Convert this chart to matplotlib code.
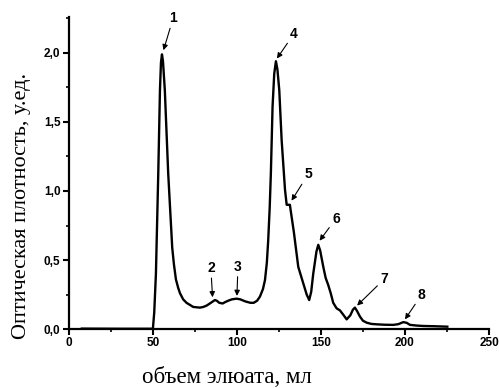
import matplotlib.pyplot as plt
from matplotlib.ticker import MultipleLocator, FuncFormatter

# Elution profile (volume in ml, optical density)
volume = [7.7, 30, 50.0, 50.8, 51.8, 53.2, 54.2, 54.8, 55.4, 56.0, 57.1, 59.1, 61.5,
          62.5, 63.7, 65.0, 66.1, 68.0, 70.0, 74.0, 78.0, 80.0, 82.0, 84.5, 86.9,
          88.0, 89.5, 91.5, 93.0, 94.8, 97.0, 99.8, 102.0, 105.0, 108.0, 110.0,
          112.0, 113.7, 115.5, 116.7, 117.8, 118.6, 119.5, 120.2, 121.2, 122.2,
          123.2, 124.1, 125.2, 126.6, 128.6, 129.6, 131.5, 133.9, 136.5, 139.5,
          141.5, 143.0, 144.2, 145.4, 147.3, 148.4, 149.5, 151.4, 152.8, 154.3,
          155.8, 157.3, 159.3, 161.3, 163.5, 165.3, 167.5, 169.0, 170.2, 171.5,
          173.2, 175.0, 177.2, 180.0, 183.2, 188.0, 193.0, 196.0, 199.0, 201.0,
          203.0, 207.0, 211.0, 218.0, 225.2]
density = [0.003, 0.002, 0.002, 0.12, 0.40, 1.13, 1.73, 1.93, 1.99, 1.94, 1.73, 1.13, 0.59,
           0.47, 0.36, 0.30, 0.26, 0.215, 0.19, 0.16, 0.155, 0.16, 0.17, 0.19, 0.21,
           0.205, 0.19, 0.185, 0.195, 0.205, 0.215, 0.22, 0.215, 0.20, 0.19, 0.19,
           0.205, 0.235, 0.29, 0.355, 0.48, 0.64, 0.88, 1.13, 1.61, 1.85,
           1.94, 1.88, 1.73, 1.37, 1.01, 0.90, 0.90, 0.70, 0.45, 0.33,
           0.25, 0.21, 0.27, 0.40, 0.56, 0.61, 0.57, 0.45, 0.37, 0.32,
           0.26, 0.19, 0.15, 0.135, 0.10, 0.07, 0.10, 0.14, 0.155, 0.13,
           0.09, 0.06, 0.046, 0.037, 0.034, 0.031, 0.03, 0.035, 0.05, 0.045,
           0.03, 0.025, 0.022, 0.02, 0.017]

# Peak labels: (number, arrow tip x, tip y, label x, label y)
peak_ids = ['1', '2', '3', '4', '5', '6', '7', '8']
tip_x = [56.3, 85.5, 100.0, 123.8, 132.5, 149.2, 171.5, 200.0]
tip_y = [2.02, 0.23, 0.24, 1.96, 0.93, 0.64, 0.17, 0.07]
lab_x = [62.0, 84.5, 100.6, 134.0, 142.3, 158.9, 187.5, 210.0]
lab_y = [2.25, 0.44, 0.45, 2.14, 1.12, 0.80, 0.36, 0.25]

fig = plt.figure(figsize=(4.99, 3.88), dpi=100)
ax = fig.add_axes([0.138, 0.152, 0.842, 0.804])

ax.plot(volume, density, color='black', linewidth=1.7)

for n, tx, ty, lx, ly in zip(peak_ids, tip_x, tip_y, lab_x, lab_y):
    ax.annotate(n, xy=(tx, ty), xytext=(lx, ly), ha='center', va='center',
                fontsize=10, fontweight='bold', family='Liberation Sans',
                arrowprops=dict(arrowstyle='-|>', color='black', lw=0.8,
                                mutation_scale=8, shrinkA=0, shrinkB=0))

ax.set_xlim(0, 250)
ax.set_ylim(0, 2.26)
ax.xaxis.set_major_locator(MultipleLocator(50))
ax.xaxis.set_minor_locator(MultipleLocator(25))
ax.yaxis.set_major_locator(MultipleLocator(0.5))
ax.yaxis.set_minor_locator(MultipleLocator(0.25))
ax.yaxis.set_major_formatter(FuncFormatter(lambda v, p: f'{v:.1f}'.replace('.', ',')))

for side in ['top', 'right']:
    ax.spines[side].set_visible(False)
for side in ['left', 'bottom']:
    ax.spines[side].set_linewidth(1.6)

ax.tick_params(which='major', direction='out', length=4, width=1.5, pad=2)
ax.tick_params(which='minor', direction='out', length=2.5, width=1.2)
for lbl in ax.get_xticklabels() + ax.get_yticklabels():
    lbl.set_fontfamily('Liberation Sans')
    lbl.set_fontweight('bold')
    lbl.set_fontsize(8.5)

fig.text(0.455, 0.026, 'объем элюата, мл', ha='center', va='center',
         family='Liberation Serif', fontsize=16.5)
fig.text(0.044, 0.47, 'Оптическая плотность, у.ед.', ha='center', va='center',
         rotation=90, family='Liberation Serif', fontsize=16)

fig.savefig('out.png', dpi=100)
